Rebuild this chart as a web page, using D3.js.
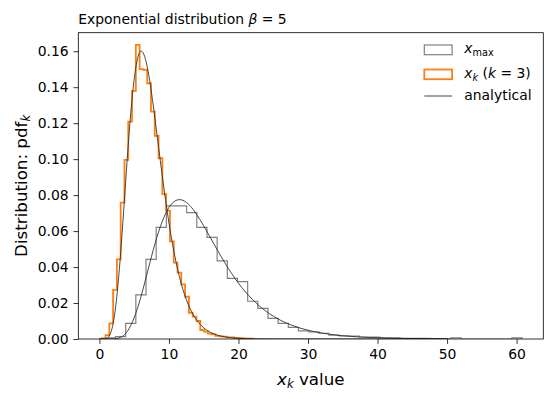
<!DOCTYPE html>
<html>
<head>
<meta charset="utf-8">
<script src="https://cdn.jsdelivr.net/npm/d3@7"></script>
<style>
  body { margin: 0; background: #fff; }
  svg { display: block; font-family: "DejaVu Sans", sans-serif; }
</style>
</head>
<body>
<svg id="chart" width="553" height="399"></svg>
<script>
// x_max histogram (gray step), equal bins
const maxBinStart = 0.85;
const maxBinWidth = 1.462;
const maxDensity = [
  0.0006, 0.0013, 0.0087, 0.0245, 0.0443, 0.0621, 0.0740, 0.0740, 0.0703, 0.0621,
  0.0565, 0.0434, 0.0337, 0.0319, 0.0210, 0.0170, 0.0115, 0.0087, 0.0065, 0.0045,
  0.0040, 0.0032, 0.0022, 0.0017, 0.0016, 0.0011, 0.0010, 0.0007, 0.0006, 0.0004,
  0.0003, 0.0003, 0.0002, 0.0001, 0.0006, 0, 0, 0, 0, 0, 0.0006
];

// x_k (k = 3) histogram (orange step), equal bins
const kBinStart = 0.33;
const kBinWidth = 0.545;
const kDensity = [
  0.0004, 0.0022, 0.0087, 0.0273, 0.0443, 0.0758, 0.0996, 0.1209, 0.1379, 0.1635,
  0.1500, 0.1496, 0.1422, 0.1264, 0.1129, 0.1005, 0.0805, 0.0714, 0.0543, 0.0425,
  0.0369, 0.0304, 0.0235, 0.0146, 0.0124, 0.0100, 0.0050, 0.0041, 0.0030, 0.0026,
  0.0017, 0.0015, 0.0013, 0.0009, 0.0009, 0.0006, 0.0005, 0.0003, 0.0002, 0.0002
];

// analytical curves
const maxCurveX = [0, 1, 2, 3, 4, 5, 6, 7, 8, 9, 10, 11, 11.5, 12, 13, 14, 15, 16, 17, 18, 19,
  20, 21, 22, 23, 24, 25, 26, 27, 28, 29, 30, 31, 32, 33, 34, 35, 36, 37, 38, 39,
  40, 41, 42, 43, 44, 45, 46, 47, 48, 49, 50];
const maxCurveY = [0, 0, 0.00006, 0.00085, 0.0042, 0.0119, 0.0239, 0.0386, 0.0531, 0.0650,
  0.0732, 0.0770, 0.0775, 0.0771, 0.0742, 0.0691, 0.0629, 0.0561, 0.0492, 0.0426, 0.0365,
  0.0310, 0.0262, 0.0220, 0.0184, 0.0153, 0.0127, 0.0105, 0.0087, 0.0072, 0.0059, 0.0049,
  0.0040, 0.0033, 0.0027, 0.0022, 0.0018, 0.0015, 0.0012, 0.0010, 0.0008, 0.0007,
  0.00055, 0.00045, 0.00037, 0.0003, 0.00025, 0.0002, 0.00017, 0.00014, 0.00011, 0.00009];

const kCurveX = [0, 0.5, 1, 1.5, 2, 2.5, 3, 3.5, 4, 4.5, 5, 5.5, 6, 6.5, 7, 7.5, 8, 8.5, 9, 9.5,
  10, 10.5, 11, 11.5, 12, 12.5, 13, 13.5, 14, 14.5, 15, 15.5, 16, 16.5, 17, 17.5, 18,
  19, 20, 21, 22, 24, 26, 30, 40, 50];
const kCurveY = [0, 0, 0.00025, 0.0023, 0.0092, 0.0235, 0.0453, 0.0722, 0.1003, 0.1254,
  0.1445, 0.1562, 0.1601, 0.1571, 0.1488, 0.1366, 0.1222, 0.1069, 0.0918, 0.0775,
  0.0645, 0.0530, 0.0431, 0.0346, 0.0276, 0.0219, 0.0172, 0.0134, 0.0104, 0.0081,
  0.0062, 0.0048, 0.0036, 0.0028, 0.0021, 0.0016, 0.0012,
  0.0007, 0.0004, 0.0002, 0.0001, 0.00004, 0.00001, 0, 0, 0];

const xTicks = [0, 10, 20, 30, 40, 50, 60];
const yTicks = [0, 0.02, 0.04, 0.06, 0.08, 0.10, 0.12, 0.14, 0.16];

const margin = { left: 78.3, right: 543.3, top: 32.7, bottom: 339 };
const fontSize = 13.9;
const tickLen = 4.86;
const orange = "#ff7f0e";

const svg = d3.select("#chart");

const x = d3.scaleLinear().domain([-3.04, 63.84]).range([margin.left, margin.right]);
const y = d3.scaleLinear().domain([0, 0.1703]).range([margin.bottom, margin.top]);

svg.append("defs").append("clipPath").attr("id", "plot-clip")
  .append("rect")
  .attr("x", margin.left).attr("y", margin.top)
  .attr("width", margin.right - margin.left)
  .attr("height", margin.bottom - margin.top);

function stepPoints(start, width, dens) {
  const pts = [[start, 0]];
  dens.forEach((d, i) => {
    pts.push([start + i * width, d]);
    pts.push([start + (i + 1) * width, d]);
  });
  pts.push([start + dens.length * width, 0]);
  return pts;
}

const line = d3.line().x((d) => x(d[0])).y((d) => y(d[1]));
const smooth = d3.line().x((d) => x(d[0])).y((d) => y(d[1])).curve(d3.curveMonotoneX);

const plot = svg.append("g").attr("clip-path", "url(#plot-clip)");

plot.append("path")
  .attr("d", line(stepPoints(maxBinStart, maxBinWidth, maxDensity)))
  .attr("fill", "none")
  .attr("stroke", "#808080")
  .attr("stroke-width", 1.2)
  .attr("stroke-linejoin", "miter");

plot.append("path")
  .attr("d", line(stepPoints(kBinStart, kBinWidth, kDensity)))
  .attr("fill", "none")
  .attr("stroke", orange)
  .attr("stroke-width", 1.8)
  .attr("stroke-linejoin", "miter");

[[maxCurveX, maxCurveY], [kCurveX, kCurveY]].forEach(([cx, cy]) => {
  plot.append("path")
    .attr("d", smooth(cx.map((v, i) => [v, cy[i]])))
    .attr("fill", "none")
    .attr("stroke", "#333")
    .attr("stroke-width", 0.9);
});

// axes
const xAxis = d3.axisBottom(x).tickValues(xTicks).tickSize(tickLen).tickPadding(4.86)
  .tickFormat(d3.format("d"));
const yAxis = d3.axisLeft(y).tickValues(yTicks).tickSize(tickLen).tickPadding(4.86)
  .tickFormat(d3.format(".2f"));

const gx = svg.append("g").attr("transform", `translate(0,${margin.bottom})`).call(xAxis);
const gy = svg.append("g").attr("transform", `translate(${margin.left},0)`).call(yAxis);

[gx, gy].forEach((g) => {
  g.select(".domain").remove();
  g.selectAll(".tick line").attr("stroke", "#000").attr("stroke-width", 0.8);
  g.selectAll(".tick text")
    .attr("fill", "#000")
    .style("font-family", "DejaVu Sans")
    .style("font-size", fontSize + "px");
});

svg.append("rect")
  .attr("x", margin.left).attr("y", margin.top)
  .attr("width", margin.right - margin.left)
  .attr("height", margin.bottom - margin.top)
  .attr("fill", "none")
  .attr("stroke", "#000")
  .attr("stroke-width", 0.8);

// title
const title = svg.append("text")
  .attr("x", margin.left).attr("y", 24.4)
  .style("font-size", fontSize + "px");
title.append("tspan").text("Exponential distribution ");
title.append("tspan").attr("font-style", "italic").text("β");
title.append("tspan").text(" = 5");

// x label
const xLabel = svg.append("text")
  .attr("x", (margin.left + margin.right) / 2).attr("y", 385)
  .attr("text-anchor", "middle")
  .style("font-size", "16.7px");
xLabel.append("tspan").attr("font-style", "italic").text("x");
xLabel.append("tspan").attr("font-style", "italic").attr("font-size", "11.7px").attr("dy", 3).text("k");
xLabel.append("tspan").attr("dy", -3).text(" value");

// y label
const yLabel = svg.append("text")
  .attr("transform", `translate(27,${(margin.top + margin.bottom) / 2}) rotate(-90)`)
  .attr("text-anchor", "middle")
  .style("font-size", "16.7px");
yLabel.append("tspan").text("Distribution: pdf");
yLabel.append("tspan").attr("font-style", "italic").attr("font-size", "11.7px").attr("dy", 3).text("k");

// legend
const legend = svg.append("g");
const handleX = 424.3;
const handleW = 27.8;
const textX = 464.3;

legend.append("rect")
  .attr("x", handleX).attr("y", 45).attr("width", handleW).attr("height", 9.7)
  .attr("fill", "none").attr("stroke", "#808080").attr("stroke-width", 1.2);
legend.append("rect")
  .attr("x", handleX).attr("y", 69.5).attr("width", handleW).attr("height", 9.7)
  .attr("fill", "none").attr("stroke", orange).attr("stroke-width", 1.8);
legend.append("line")
  .attr("x1", handleX).attr("x2", handleX + handleW).attr("y1", 96).attr("y2", 96)
  .attr("stroke", "#333").attr("stroke-width", 0.9);

const l1 = legend.append("text").attr("x", textX).attr("y", 53.3).style("font-size", fontSize + "px");
l1.append("tspan").attr("font-style", "italic").text("x");
l1.append("tspan").attr("font-size", "9.7px").attr("dy", 2.4).text("max");

const l2 = legend.append("text").attr("x", textX).attr("y", 78.3).style("font-size", fontSize + "px");
l2.append("tspan").attr("font-style", "italic").text("x");
l2.append("tspan").attr("font-style", "italic").attr("font-size", "9.7px").attr("dy", 2.4).text("k");
l2.append("tspan").attr("dy", -2.4).text(" (");
l2.append("tspan").attr("font-style", "italic").text("k");
l2.append("tspan").text(" = 3)");

legend.append("text").attr("x", textX).attr("y", 100.3)
  .style("font-size", fontSize + "px").text("analytical");
</script>
</body>
</html>
